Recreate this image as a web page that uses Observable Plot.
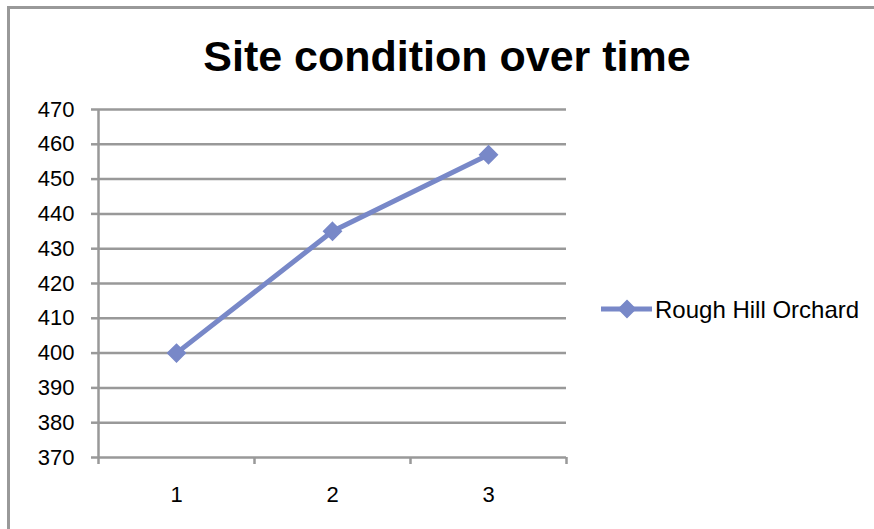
<!DOCTYPE html>
<html>
<head>
<meta charset="utf-8">
<script src="https://cdn.jsdelivr.net/npm/d3@7"></script>
<script src="https://cdn.jsdelivr.net/npm/@observablehq/plot@0.6"></script>
<style>
  html, body { margin: 0; padding: 0; background: #fff; overflow: hidden; }
  #wrap { position: relative; width: 874px; height: 529px; overflow: hidden; font-family: "Liberation Sans", Arial, sans-serif; }
  #wrap svg { position: absolute; left: 0; top: 0; }
</style>
</head>
<body>
<div id="wrap"></div>
<script>
const title = "Site condition over time";
const seriesName = "Rough Hill Orchard";
const categories = [1, 2, 3];
const values = [400, 435, 457];
const yTicks = [370, 380, 390, 400, 410, 420, 430, 440, 450, 460, 470];
const xBoundaries = [0.5, 1.5, 2.5, 3.5];

const data = categories.map((c, i) => ({x: c, y: values[i]}));
const lineColor = "#7888C8";
const gridColor = "#999999";

const chart = Plot.plot({
  width: 874,
  height: 529,
  marginLeft: 98,
  marginRight: 308,
  marginTop: 109,
  marginBottom: 72,
  style: {fontFamily: "Liberation Sans, Arial, sans-serif", background: "transparent", overflow: "visible"},
  x: {domain: [0.5, 3.5]},
  y: {domain: [370, 470]},
  marks: [
    Plot.ruleY(yTicks, {stroke: gridColor, strokeWidth: 2.5}),
    Plot.ruleX([0.5], {y1: 370, y2: 470, stroke: gridColor, strokeWidth: 2.5}),
    Plot.axisY({ticks: yTicks, tickSize: 7, tickPadding: 17, stroke: gridColor, strokeWidth: 2.5, strokeOpacity: 1, fontSize: 22, fill: "#000", label: null}),
    Plot.axisX({ticks: xBoundaries, tickSize: 7, tickFormat: () => "", stroke: gridColor, strokeWidth: 2.5, strokeOpacity: 1, label: null}),
    Plot.axisX({ticks: categories, tickSize: 0, tickPadding: 29, fontSize: 22, fill: "#000", label: null, tickFormat: d => String(d)}),
    Plot.line(data, {x: "x", y: "y", stroke: lineColor, strokeWidth: 5}),
    Plot.dot(data, {x: "x", y: "y", symbol: "diamond2", r: 8, fill: lineColor, stroke: lineColor, strokeWidth: 1.5})
  ]
});

const svg = d3.select(chart);
// chart frame (left and top edges visible)
svg.append("path").attr("d", "M8.5,529 V7.5 H874")
  .attr("fill", "none").attr("stroke", gridColor).attr("stroke-width", 3);

svg.append("text")
  .attr("x", 447).attr("y", 71)
  .attr("text-anchor", "middle")
  .attr("font-family", "Liberation Sans, Arial, sans-serif")
  .attr("font-weight", "bold")
  .attr("font-size", 43)
  .attr("fill", "#000")
  .text(title);

const lg = svg.append("g");
lg.append("line").attr("x1", 601).attr("x2", 652).attr("y1", 309).attr("y2", 309)
  .attr("stroke", lineColor).attr("stroke-width", 5);
lg.append("path").attr("d", d3.symbol(d3.symbolDiamond2, 180)()).attr("transform", "translate(627,309)")
  .attr("fill", lineColor).attr("stroke", lineColor).attr("stroke-width", 1.5);
lg.append("text").attr("x", 655).attr("y", 318)
  .attr("text-anchor", "start")
  .attr("font-family", "Liberation Sans, Arial, sans-serif")
  .attr("font-size", 24).attr("fill", "#000")
  .text(seriesName);

document.getElementById("wrap").appendChild(chart);
</script>
</body>
</html>
